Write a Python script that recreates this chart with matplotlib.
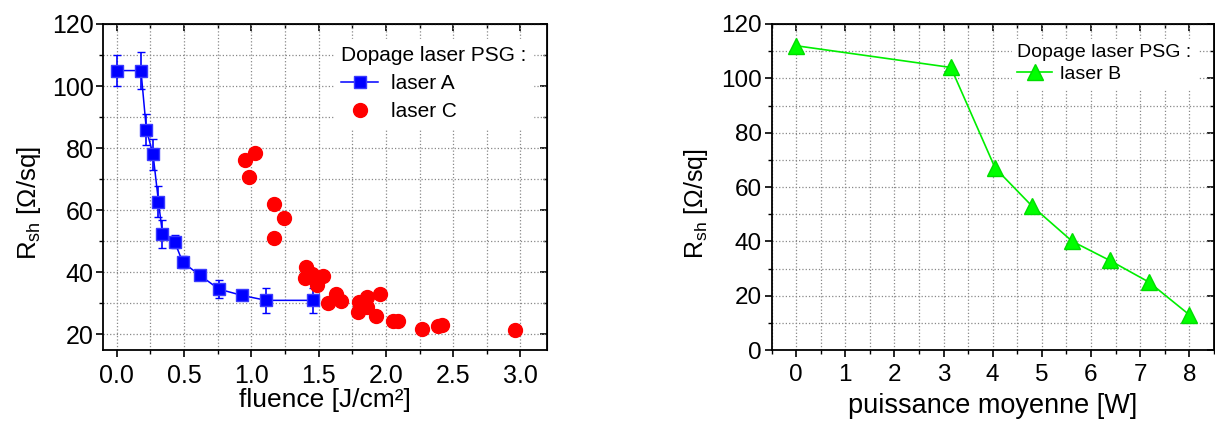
import matplotlib
matplotlib.use('Agg')
import matplotlib.pyplot as plt
from matplotlib.lines import Line2D
from matplotlib.ticker import MultipleLocator, FormatStrFormatter

plt.rcParams['font.family'] = ['Liberation Sans', 'DejaVu Sans']

# laser A (fluence, Rsh, erreur)
fluence_A = [0.0, 0.18, 0.22, 0.27, 0.31, 0.34, 0.43, 0.49, 0.62, 0.76, 0.93, 1.11, 1.46]
rsh_A = [105, 105, 86, 78, 62.8, 52.4, 49.9, 43.3, 39, 34.6, 32.6, 31, 31]
err_A = [5, 6, 5, 5, 5, 4.6, 2, 2, 1, 3, 1, 4, 4]

# laser C
fluence_C = [0.95, 1.03, 0.98, 1.17, 1.24, 1.17, 1.41, 1.40, 1.45, 1.53, 1.49,
             1.57, 1.63, 1.67, 1.79, 1.80, 1.86, 1.86, 1.93, 1.96, 2.05, 2.09,
             2.27, 2.39, 2.42, 2.96]
rsh_C = [76.2, 78.4, 70.7, 62.1, 57.5, 51.0, 41.7, 38.2, 39.5, 38.7, 36.0,
         30.3, 33.1, 30.9, 27.4, 30.6, 32.2, 29.0, 26.0, 33.1, 24.2, 24.2,
         21.7, 22.6, 22.9, 21.5]

# laser B (puissance moyenne)
puissance_B = [0, 3.15, 4.05, 4.8, 5.62, 6.38, 7.18, 8.0]
rsh_B = [112, 104, 67, 53, 40, 33, 25, 13]

fig = plt.figure(figsize=(12.15, 4.21), dpi=100)

# ---- graphe de gauche : fluence
ax1 = fig.add_axes([0.085, 0.1686, 0.3655, 0.7744])
ax1.errorbar(fluence_A, rsh_A, yerr=err_A, color='blue', marker='s',
             markersize=8, linewidth=1.1, capsize=3, elinewidth=1.2,
             markeredgecolor='#3a3aff')
ax1.plot(fluence_C, rsh_C, 'o', color='red', markersize=10,
         markeredgecolor='red')
ax1.set_xlim(-0.1, 3.2)
ax1.set_ylim(15, 120)
ax1.xaxis.set_major_locator(MultipleLocator(0.5))
ax1.xaxis.set_minor_locator(MultipleLocator(0.25))
ax1.yaxis.set_major_locator(MultipleLocator(20))
ax1.yaxis.set_minor_locator(MultipleLocator(10))
ax1.xaxis.set_major_formatter(FormatStrFormatter('%.1f'))
ax1.tick_params(which='major', length=5, width=1.2, labelsize=18)
ax1.tick_params(axis='y', pad=2)
ax1.tick_params(axis='x', pad=5)
ax1.set_xlabel('fluence [J/cm²]', fontsize=19, labelpad=0)
ax1.set_ylabel(r'$\mathregular{R_{sh}}$ [Ω/sq]', fontsize=18.5, labelpad=6)
hA = Line2D([], [], color='blue', marker='s', markersize=8, linewidth=1.1,
            markeredgecolor='#3a3aff')
hC = Line2D([], [], color='red', marker='o', markersize=10, linestyle='none')
leg1 = ax1.legend([hA, hC], ['laser A', 'laser C'], title='Dopage laser PSG :',
                  loc='upper right', bbox_to_anchor=(0.99, 0.985),
                  fontsize=15, title_fontsize=15, handlelength=1.8,
                  handletextpad=0.6, borderpad=0.3, labelspacing=0.45,
                  fancybox=False)

# ---- graphe de droite : puissance moyenne
ax2 = fig.add_axes([0.635, 0.1686, 0.364, 0.7744])
ax2.plot(puissance_B, rsh_B, '-^', color='#00ee00', markerfacecolor='#00ff00',
         markeredgecolor='#00dd00', markersize=12, linewidth=1.2)
ax2.set_xlim(-0.5, 8.5)
ax2.set_ylim(0, 120)
ax2.xaxis.set_major_locator(MultipleLocator(1))
ax2.xaxis.set_minor_locator(MultipleLocator(0.5))
ax2.yaxis.set_major_locator(MultipleLocator(20))
ax2.yaxis.set_minor_locator(MultipleLocator(10))
ax2.tick_params(which='major', length=5, width=1.2, labelsize=17.5)
ax2.tick_params(axis='y', pad=2)
ax2.tick_params(axis='x', pad=5)
ax2.set_xlabel('puissance moyenne [W]', fontsize=19.5, labelpad=5)
ax2.set_ylabel(r'$\mathregular{R_{sh}}$ [Ω/sq]', fontsize=18, labelpad=8)
hB = Line2D([], [], color='#00ee00', marker='^', markerfacecolor='#00ff00',
            markeredgecolor='#00dd00', markersize=12, linewidth=1.2)
leg2 = ax2.legend([hB], ['laser B'], title='Dopage laser PSG :',
                  loc='upper right', bbox_to_anchor=(0.985, 0.985),
                  fontsize=14, title_fontsize=14, handlelength=1.8,
                  handletextpad=0.4, borderpad=0.3, labelspacing=0.2,
                  fancybox=False)

for ax, leg in ((ax1, leg1), (ax2, leg2)):
    ax.grid(True, which='both', linestyle=':', color='#888888', linewidth=0.9)
    ax.set_axisbelow(True)
    ax.tick_params(which='minor', length=3, width=1.0)
    ax.yaxis.label.set_y(0.45)
    for s in ax.spines.values():
        s.set_linewidth(1.3)
    leg.get_frame().set_edgecolor('white')
    leg.get_frame().set_alpha(1)
    leg._legend_box.align = 'left'
    # graduations vers l'interieur en haut et a droite
    sx = ax.secondary_xaxis('top')
    sx.tick_params(which='major', direction='in', length=5, width=1.2)
    sx.tick_params(which='minor', direction='in', length=3, width=1.0)
    sx.xaxis.set_major_locator(ax.xaxis.get_major_locator())
    sx.xaxis.set_minor_locator(ax.xaxis.get_minor_locator())
    sx.set_xticklabels([])
    sy = ax.secondary_yaxis('right')
    sy.tick_params(which='major', direction='in', length=5, width=1.2)
    sy.tick_params(which='minor', direction='in', length=3, width=1.0)
    sy.yaxis.set_major_locator(ax.yaxis.get_major_locator())
    sy.yaxis.set_minor_locator(ax.yaxis.get_minor_locator())
    sy.set_yticklabels([])

fig.savefig('out.png', dpi=100)
